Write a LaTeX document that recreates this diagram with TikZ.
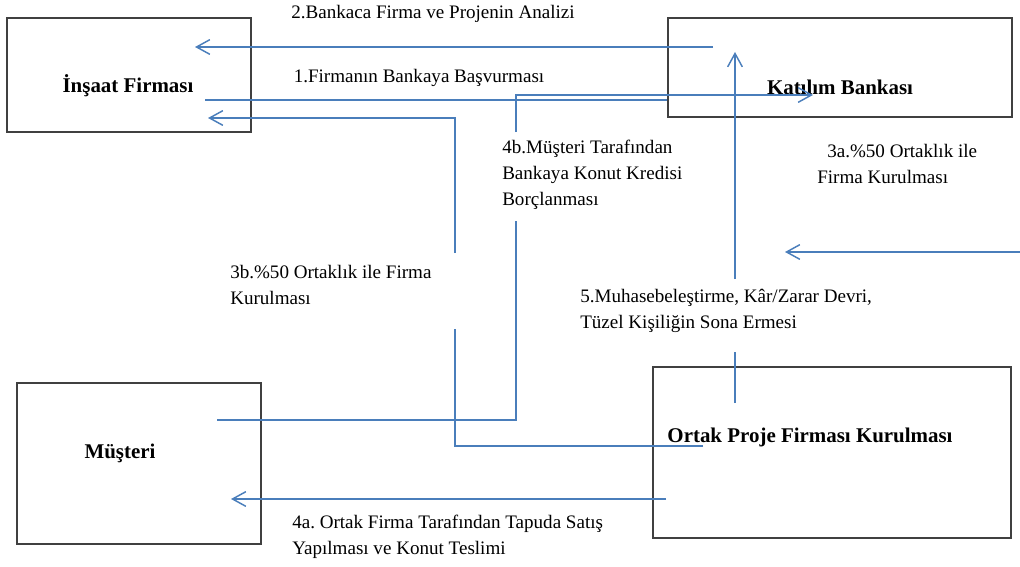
\documentclass[tikz,border=0pt]{standalone}
\usepackage{fontspec}
\setmainfont{Liberation Serif}
\frenchspacing
\usetikzlibrary{arrows.meta, positioning, calc}
\definecolor{flowblue}{HTML}{4A7EBB}
\definecolor{boxgray}{HTML}{404040}

\tikzset{
  box/.style={draw=boxgray, line width=0.8pt, inner sep=0pt},
  boxtext/.style={font=\fontsize{15.7}{19}\selectfont\bfseries},
  flow/.style={draw=flowblue, line width=1.1pt},
  flowarrow/.style={flow, -{Straight Barb[length=10pt, width=11pt]}},
  steptext/.style={font=\fontsize{14.3}{19.5}\selectfont, align=left, inner sep=0pt, anchor=west}
}

\begin{document}
\begin{tikzpicture}[x=0.75pt, y=-0.75pt]
    \useasboundingbox (0,0) rectangle (1020,567);

    % Boxes
    \node[box, minimum width=183pt, minimum height=85.5pt,
        label={[boxtext, xshift=-0.75pt, yshift=-8.25pt]center:İnşaat Firması}] (insaat) at (129,75) {};
    \node[box, minimum width=258pt, minimum height=74.25pt,
        label={[boxtext, yshift=-15pt]center:Katılım Bankası}] (bank) at (840,67.5) {};
    \node[box, minimum width=183pt, minimum height=120.75pt,
        label={[boxtext, xshift=-14.25pt, yshift=7.5pt]center:Müşteri}] (musteri) at (139,463.5) {};
    \node[box, minimum width=268.5pt, minimum height=128.25pt,
        label={[boxtext, xshift=-16.5pt, yshift=11.25pt]center:Ortak Proje Firması Kurulması}] (ortak) at (832,452.5) {};

    % End points of the connectors
    \coordinate (c1s) at (205,100);
    \coordinate (c2s) at (713,47);
    \coordinate (c2e) at (195,47);
    \coordinate (c3as) at (1020,252);
    \coordinate (c3ae) at (785,252);
    \coordinate (c3bs) at (703,446);
    \coordinate (c3bm) at (455,329);
    \coordinate (c3bn) at (455,253);
    \coordinate (c3be) at (208,118);
    \coordinate (c4as) at (666,499);
    \coordinate (c4ae) at (231,499);
    \coordinate (c4bs) at (217,420);
    \coordinate (c4bm) at (516,221);
    \coordinate (c4bn) at (516,132);
    \coordinate (c4be) at (813,95);
    \coordinate (c5s) at (735,403);
    \coordinate (c5m) at (735,352);
    \coordinate (c5n) at (735,279);
    \coordinate (c5e) at (735,52);

    % Connectors
    \draw[flow] (c1s) -- (c1s -| bank.west);
    \draw[flowarrow] (c2s) -- (c2e);
    \draw[flowarrow] (c3as) -- (c3ae);
    \draw[flow] (c3bs) -| (c3bm);
    \draw[flowarrow] (c3bn) |- (c3be);
    \draw[flowarrow] (c4as) -- (c4ae);
    \draw[flow] (c4bs) -| (c4bm);
    \draw[flowarrow] (c4bn) |- (c4be);
    \draw[flow] (c5s) -- (c5m);
    \draw[flowarrow] (c5n) -- (c5e);

    % Step labels
    \node[steptext, anchor=center] (t2) at (433,14) {2.Bankaca Firma ve Projenin Analizi};
    \node[steptext, anchor=center] (t1) at (419,78) {1.Firmanın Bankaya Başvurması};
    \node[steptext] (t3a) at (817,164) {\hspace*{7.5pt}3a.\%50 Ortaklık ile\\Firma Kurulması};
    \node[steptext] (t3b) at (230,285) {3b.\%50 Ortaklık ile Firma\\Kurulması};
    \node[steptext] (t4b) at (502,175) {4b.Müşteri Tarafından\\Bankaya Konut Kredisi\\Borçlanması};
    \node[steptext] (t5) at (580,311) {5.Muhasebeleştirme, Kâr/Zarar Devri,\\Tüzel Kişiliğin Sona Ermesi};
    \node[steptext] (t4a) at (292,537) {4a. Ortak Firma Tarafından Tapuda Satış\\Yapılması ve Konut Teslimi};
\end{tikzpicture}
\end{document}
